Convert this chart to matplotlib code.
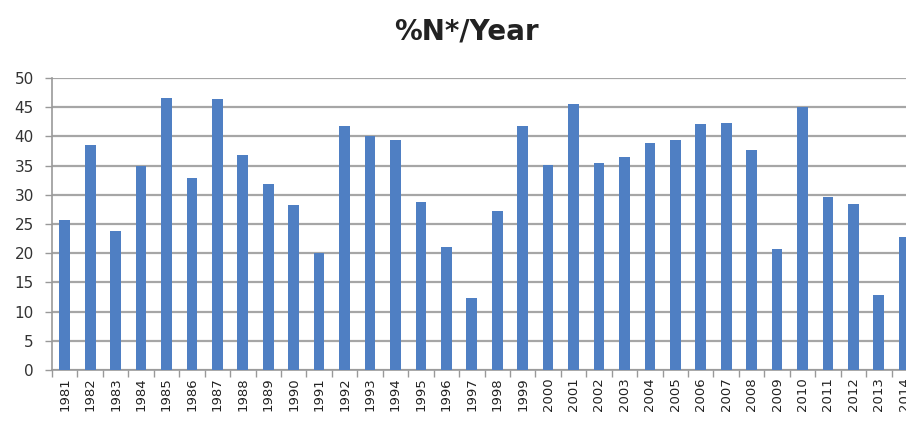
import matplotlib
matplotlib.use("Agg")
import matplotlib.pyplot as plt
import numpy as np
from matplotlib.ticker import FixedLocator

years = [str(y) for y in range(1981, 2015)]
values = [25.6, 38.6, 23.8, 35.0, 46.6, 32.8, 46.4, 36.8, 31.8, 28.3,
          20.0, 41.8, 40.0, 39.4, 28.8, 21.1, 12.3, 27.2, 41.8, 35.1,
          45.5, 35.4, 36.5, 38.9, 39.4, 42.1, 42.3, 37.6, 20.8, 45.1,
          29.6, 28.5, 12.8, 22.7]
yticks = list(range(0, 51, 5))

fig = plt.figure(figsize=(9.06, 4.23), dpi=100)
ax = fig.add_axes([52/906, (423-370)/423, 865/906, 292/423])
x = np.arange(len(years))
ax.bar(x, values, width=0.42, color="#4F7FC3", zorder=3)
ax.set_xlim(-0.5, len(years) - 0.5)
ax.set_ylim(0, 50)
ax.set_yticks(yticks)
ax.set_xticks(x)
ax.set_xticklabels(years, rotation=90, fontsize=9.5, color="#222222")
ax.xaxis.set_minor_locator(FixedLocator(np.arange(-0.5, len(years), 1.0)))
ax.tick_params(axis="x", which="major", length=0, pad=5)
ax.tick_params(axis="x", which="minor", length=5, color="#999999", width=1)
ax.tick_params(axis="y", length=5, color="#999999", width=1, labelsize=11,
               labelcolor="#333333", pad=8)
ax.grid(axis="y", color="#A6A6A6", linewidth=1.6, zorder=0)
for s in ["top", "right"]:
    ax.spines[s].set_visible(False)
for s in ["left", "bottom"]:
    ax.spines[s].set_color("#999999")
    ax.spines[s].set_linewidth(1.2)
fig.text(466/906, 1 - 32/423, "%N*/Year", ha="center", va="center",
         fontsize=20, fontweight="bold", color="#222222")
fig.savefig("out.png", dpi=100)
